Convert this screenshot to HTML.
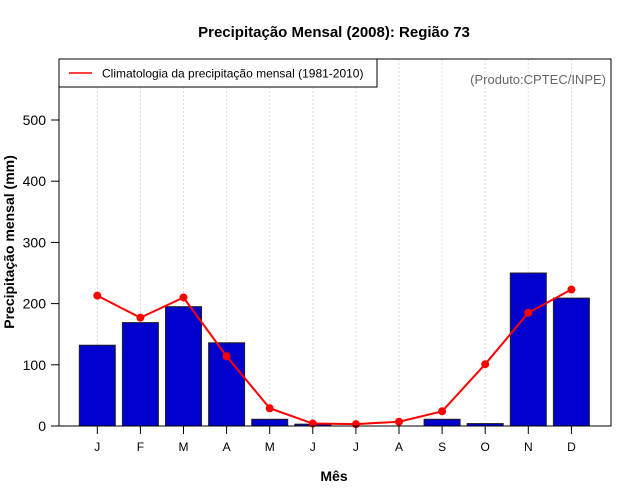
<!DOCTYPE html>
<html><head><meta charset="utf-8"><style>
body{margin:0;background:#fff}
svg{display:block;font-family:"Liberation Sans",sans-serif}
</style></head><body>
<svg id="chart" width="640" height="500" xmlns="http://www.w3.org/2000/svg">
<rect width="640" height="500" fill="#fff"/>
<text x="334" y="37" text-anchor="middle" font-size="15" font-weight="bold">Precipitação Mensal (2008): Região 73</text>
<g id="grid"></g>
<g id="bars"></g>
<g id="line"></g>
<rect x="59" y="59" width="552" height="367" fill="none" stroke="#000" stroke-width="1"/>
<g id="axes"></g>
<text x="334" y="481" text-anchor="middle" font-size="14" font-weight="bold">Mês</text>
<text transform="translate(14,242) rotate(-90)" text-anchor="middle" font-size="14" font-weight="bold">Precipitação mensal (mm)</text>
<g>
<rect x="59" y="59" width="318" height="28" fill="#fff" stroke="#000"/>
<line x1="69" y1="73" x2="92" y2="73" stroke="#ff0000" stroke-width="1.5"/>
<text x="102" y="77.5" font-size="12">Climatologia da precipitação mensal (1981-2010)</text>
</g>
<text x="606" y="84" text-anchor="end" font-size="13" fill="#666">(Produto:CPTEC/INPE)</text>
</svg>
<script>
const months = ["J","F","M","A","M","J","J","A","S","O","N","D"];
const precip2008 = [132,169,195,136,11,3,0,0,11,4,250,209];
const climatology = [213,177,210,114,29,4,3,7,24,101,185,223];
const yTicks = [0,100,200,300,400,500];

const NS="http://www.w3.org/2000/svg";
function yS(v){return 426 - v*0.612;}
function xS(i){return 97.3 + i*43.1;}
function mk(tag,attrs,parent){const e=document.createElementNS(NS,tag);for(const k in attrs)e.setAttribute(k,attrs[k]);parent.appendChild(e);return e;}
const grid=document.getElementById('grid'),bars=document.getElementById('bars'),line=document.getElementById('line'),axes=document.getElementById('axes');

months.forEach((m,i)=>{
  const g=mk('line',{x1:xS(i),x2:xS(i),y1:59,y2:426,stroke:'#ddd','stroke-dasharray':'2,2'},grid);
  
  
  const v=precip2008[i];
  const b=mk('rect',{x:xS(i)-18,y:yS(v),width:36,height:Math.max(0,426-yS(v)),fill:'#0000cc',stroke:'#222','stroke-width':1},bars);
  
  
  const t=mk('line',{x1:xS(i),x2:xS(i),y1:426,y2:434,stroke:'#000'},axes);
  
  
  const l=mk('text',{x:xS(i),y:451,'text-anchor':'middle','font-size':12},axes);
  l.textContent=m;
  
  
});
const pts=climatology.map((v,i)=>xS(i)+','+yS(v)).join(' ');
const pl=mk('polyline',{points:pts,fill:'none',stroke:'#ff0000','stroke-width':2},line);


climatology.forEach((v,i)=>{
  const c=mk('circle',{cx:xS(i),cy:yS(v),r:4,fill:'#ff0000'},line);
  
  
});
yTicks.forEach(v=>{
  const t=mk('line',{x1:51,x2:59,y1:yS(v),y2:yS(v),stroke:'#000'},axes);
  
  
  const l=mk('text',{x:46,y:yS(v)+5,'text-anchor':'end','font-size':14},axes);
  l.textContent=v;
  
  
});
</script>
</body></html>
